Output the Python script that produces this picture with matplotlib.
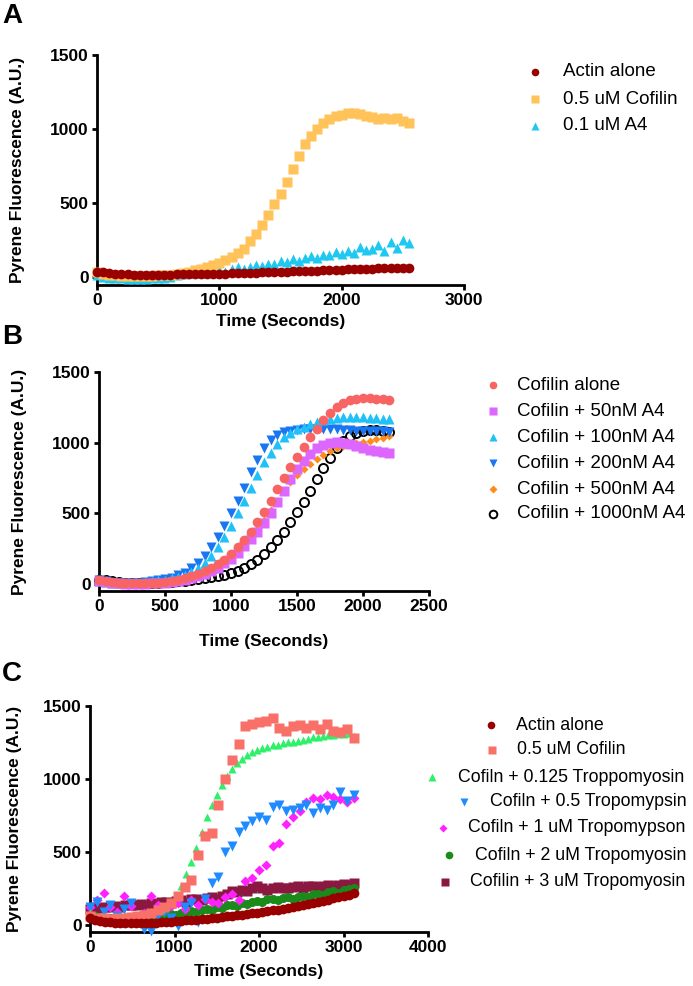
import numpy as np
import matplotlib
matplotlib.use('Agg')
import matplotlib.pyplot as plt
from matplotlib.lines import Line2D

plt.rcParams['font.family'] = ['Liberation Sans', 'DejaVu Sans']

# ---- Panel A data (time in s, pyrene fluorescence in A.U.) ----
t_a = np.arange(0, 2551, 50)
a_actin = [35, 30, 25, 22, 20, 18, 15, 13, 12, 12,
           12, 14, 15, 16, 17, 18, 19, 20, 20, 21,
           22, 22, 24, 25, 26, 28, 29, 30, 31, 33,
           34, 35, 37, 38, 40, 41, 43, 44, 46, 47,
           49, 50, 52, 53, 55, 56, 58, 59, 60, 61,
           62, 63]
a_cofilin = [30, 20, 15, 10, 8, 5, 5, 5, 5, 8,
             10, 12, 15, 20, 25, 35, 45, 55, 70, 82,
             95, 115, 135, 160, 190, 240, 290, 350, 420, 490,
             560, 640, 730, 820, 900, 950, 1000, 1040, 1070, 1085,
             1095, 1105, 1110, 1100, 1090, 1080, 1065, 1075, 1070, 1075,
             1055, 1040]
a_a4 = [10, 0, -5, -10, -10, -15, -15, -15, -15, -10,
        -10, -5, 0, 15, 20, 25, 30, 25, 30, 40,
        45, 35, 50, 65, 55, 70, 80, 75, 90, 85,
        105, 100, 120, 110, 130, 140, 125, 150, 145, 165,
        155, 175, 160, 200, 180, 190, 215, 175, 235, 195,
        250, 230]
a_labels = ['Actin alone', '0.5 uM Cofilin', '0.1 uM A4']

# ---- Panel B data ----
t_b = np.arange(0, 2201, 50)
b_cofilin = [30, 20, 15, 10, 8, 5, 5, 5, 8, 10,
             15, 20, 30, 40, 55, 70, 90, 115, 140, 170,
             210, 260, 310, 370, 440, 510, 590, 670, 750, 830,
             900, 970, 1040, 1100, 1160, 1210, 1250, 1280, 1300, 1310,
             1315, 1315, 1310, 1310, 1305]
b_50 = [20, 15, 10, 5, 0, 0, 0, 0, 5, 5,
        10, 15, 20, 30, 40, 55, 70, 90, 115, 145,
        180, 220, 265, 315, 370, 430, 500, 580, 660, 740,
        810, 870, 920, 960, 985, 1000, 1005, 1000, 990, 975,
        960, 950, 940, 935, 930]
b_100 = [20, 15, 10, 5, 5, 5, 10, 15, 20, 25,
         30, 40, 50, 65, 85, 115, 150, 200, 260, 330,
         410, 500, 590, 680, 770, 860, 930, 990, 1040, 1070,
         1095, 1110, 1130, 1145, 1160, 1170, 1175, 1180, 1180, 1180,
         1180, 1175, 1175, 1170, 1165]
b_200 = [30, 20, 10, 5, 5, 5, 10, 15, 20, 25,
         35, 45, 60, 80, 110, 150, 200, 260, 330, 410,
         500, 590, 680, 790, 880, 960, 1020, 1055, 1075, 1085,
         1090, 1095, 1100, 1100, 1100, 1095, 1095, 1090, 1090, 1085,
         1085, 1080, 1080, 1080, 1075]
b_500 = [25, 15, 10, 5, 5, 0, 0, 5, 5, 10,
         15, 20, 25, 35, 45, 60, 80, 100, 125, 155,
         190, 230, 275, 330, 390, 450, 520, 590, 660, 720,
         770, 810, 850, 885, 915, 940, 960, 975, 985, 995,
         1005, 1015, 1025, 1035, 1045]
b_1000 = [30, 25, 20, 15, 10, 10, 10, 10, 10, 10,
          12, 15, 18, 22, 27, 33, 40, 47, 55, 65,
          75, 90, 110, 140, 170, 210, 260, 310, 370, 440,
          510, 580, 660, 740, 820, 890, 960, 1010, 1045, 1065,
          1080, 1090, 1090, 1085, 1075]
b_labels = ['Cofilin alone', 'Cofilin + 50nM A4', 'Cofilin + 100nM A4',
            'Cofilin + 200nM A4', 'Cofilin + 500nM A4', 'Cofilin + 1000nM A4']

# ---- Panel C data ----
t_c60 = np.arange(0, 3121, 60)
t_c80 = np.arange(0, 3121, 80)
c_actin = [45, 35, 28, 22, 18, 15, 13, 12, 12, 12,
           13, 14, 15, 17, 19, 21, 23, 25, 28, 31,
           34, 37, 40, 44, 47, 51, 55, 59, 63, 67,
           71, 76, 80, 85, 90, 95, 100, 106, 112, 118,
           124, 130, 137, 144, 151, 158, 166, 174, 182, 190,
           199, 208, 218]
c_cofilin = [60, 50, 45, 40, 45, 50, 55, 60, 70, 80,
             100, 120, 150, 200, 260, 310, 480, 610, 630, 820,
             1000, 1130, 1240, 1360, 1380, 1390, 1400, 1420, 1350, 1330,
             1360, 1370, 1350, 1370, 1340, 1380, 1330, 1320, 1340, 1280]
c_tm0125 = [80, 60, 50, 40, 45, 55, 50, 60, 65, 70,
            75, 80, 90, 100, 110, 130, 160, 200, 270, 350,
            430, 530, 640, 740, 820, 890, 960, 1020, 1070, 1110,
            1140, 1165, 1185, 1200, 1210, 1220, 1230, 1235, 1245, 1250,
            1255, 1260, 1270, 1275, 1285, 1290, 1295, 1300, 1300, 1305,
            1310, 1315, 1295]
c_tm05 = [120, 160, 90, 140, 60, 110, 150, 30, -30, -40,
          60, 90, 50, -10, 120, 150, 20, 180, 290, 330,
          500, 540, 640, 680, 710, 740, 720, 810, 820, 780,
          790, 800, 820, 770, 800, 790, 820, 910, 850, 890]
c_tm1 = [120, 170, 220, 120, 90, 200, 130, 60, 80, 200,
         140, 100, 130, 150, 110, 170, 140, 180, 160, 150,
         190, 210, 170, 300, 320, 380, 410, 540, 560, 690,
         740, 780, 840, 870, 860, 890, 880, 860, 840, 870]
c_tm2 = [70, 60, 55, 50, 45, 45, 50, 40, 50, 55,
         50, 60, 55, 65, 60, 70, 75, 70, 85, 80,
         95, 90, 105, 110, 100, 120, 115, 135, 140, 130,
         150, 145, 160, 165, 155, 175, 180, 170, 185, 190,
         180, 195, 200, 195, 210, 215, 205, 225, 230, 220,
         240, 245, 255]
c_tm3 = [110, 120, 115, 125, 120, 130, 125, 135, 140, 135,
         145, 140, 150, 145, 155, 160, 150, 165, 170, 160,
         175, 180, 170, 185, 190, 180, 200, 215, 230, 225,
         240, 235, 250, 270, 255, 240, 250, 260, 255, 250,
         260, 265, 255, 265, 270, 260, 270, 275, 265, 275,
         280, 275, 285]
c_labels = ['Actin alone', '0.5 uM Cofilin', 'Cofiln + 0.125 Troppomyosin',
            'Cofiln + 0.5 Tropomypsin', 'Cofiln + 1 uM Tropomypson',
            'Cofiln + 2 uM Tropomyosin', 'Cofilin + 3 uM Tropomyosin']

W, H = 693, 986
fig = plt.figure(figsize=(W / 100, H / 100), dpi=100)


def axes_px(left, top, right, bottom):
    return fig.add_axes([left / W, 1 - bottom / H, (right - left) / W, (bottom - top) / H])


def style_axes(ax, xmax, xstep, ybottom, xpad, ylabel_x):
    ax.set_xlim(0, xmax)
    ax.set_ylim(ybottom, 1500)
    ax.set_xticks(np.arange(0, xmax + 1, xstep))
    ax.set_yticks([0, 500, 1000, 1500])
    ax.spines['top'].set_visible(False)
    ax.spines['right'].set_visible(False)
    ax.spines['left'].set_linewidth(2)
    ax.spines['bottom'].set_linewidth(2)
    ax.tick_params(width=2, length=3.5, pad=2.5, labelsize=12.5)
    for lab in ax.get_xticklabels() + ax.get_yticklabels():
        lab.set_fontweight('bold')
    ax.set_xlabel('Time (Seconds)', fontsize=12.5, fontweight='bold', labelpad=xpad)
    ax.set_ylabel('Pyrene Fluorescence (A.U.)', fontsize=12.5, fontweight='bold')
    ax.yaxis.set_label_coords(ylabel_x, 0.5)


def scatter(ax, t, v, z, **kw):
    ax.plot(t, v, ls='none', clip_on=False, zorder=z, **kw)


def key(labels, styles, mxs, txs, ys, size):
    for lab, st, mx, tx, y in zip(labels, styles, mxs, txs, ys):
        fig.add_artist(Line2D([mx / W], [1 - y / H], transform=fig.transFigure, ls='none', **st))
        fig.text(tx / W, 1 - y / H, lab, fontsize=size, va='center', ha='left')


# ---------------- A ----------------
axA = axes_px(97, 55, 464, 285)
sA = [dict(marker='o', ms=7, color='#990000'),
      dict(marker='s', ms=6.5, color='#FFC35A'),
      dict(marker='^', ms=7, color='#1EC8F0')]
scatter(axA, t_a, a_a4, 3, mec='none', **sA[2])
scatter(axA, t_a, a_cofilin, 4, mec='none', **sA[1])
scatter(axA, t_a, a_actin, 5, mec='none', **sA[0])
style_axes(axA, 3000, 1000, -55, 4, -0.196)
key(a_labels, [dict(s, ms=5.5, mec='none') for s in sA], [535] * 3, [563] * 3, [72, 99, 126], 13.5)

# ---------------- B ----------------
axB = axes_px(99, 372, 429, 591)
sB = [dict(marker='o', ms=7, color='#F86464', mec='none'),
      dict(marker='s', ms=6.5, color='#DD66FF', mec='none'),
      dict(marker='^', ms=7, color='#20C0F8', mec='none'),
      dict(marker='v', ms=7, color='#1A75F0', mec='none'),
      dict(marker='D', ms=4.5, color='#FF8C1A', mec='none'),
      dict(marker='o', ms=6.5, mfc='none', mec='black', mew=1.4)]
b_series = [b_cofilin, b_50, b_100, b_200, b_500, b_1000]
for i in range(len(b_series) - 1, -1, -1):
    scatter(axB, t_b, b_series[i], 10 - i, **sB[i])
style_axes(axB, 2500, 500, -50, 14, -0.218)
key(b_labels, [dict(s, ms=5.5 if s['marker'] != 'D' else 4.5) for s in sB],
    [493] * 6, [517] * 6, [385, 411, 437, 463, 489, 514], 13.5)

# ---------------- C ----------------
axC = axes_px(90, 706, 428, 932)
sC = [dict(marker='o', ms=7, color='#990000', mec='none'),
      dict(marker='s', ms=7.5, color='#F87068', mec='none'),
      dict(marker='^', ms=6, color='#2EF06A', mec='none'),
      dict(marker='v', ms=7.5, color='#1E8CFF', mec='none'),
      dict(marker='D', ms=5.5, color='#FF22FF', mec='none'),
      dict(marker='o', ms=6.5, color='#1A8A1A', mec='none'),
      dict(marker='s', ms=7, color='#8B1840', mec='none')]
c_series = [(t_c60, c_actin), (t_c80, c_cofilin), (t_c60, c_tm0125), (t_c80, c_tm05),
            (t_c80, c_tm1), (t_c60, c_tm2), (t_c60, c_tm3)]
for i in range(len(c_series) - 1, -1, -1):
    scatter(axC, c_series[i][0], c_series[i][1], 10 - i, **sC[i])
style_axes(axC, 4000, 1000, -48, 6, -0.201)
key(c_labels, [dict(s, ms=5.5 if s['marker'] != 'D' else 4.5) for s in sC],
    [491, 492, 432, 464, 443, 449, 445],
    [516, 517, 458, 490, 468, 475, 470],
    [725, 750, 777, 802, 828, 855, 882], 12.8)

# panel letters
for letter, y in [('A', 16), ('B', 337), ('C', 674)]:
    fig.text(2 / W, 1 - y / H, letter, fontsize=20, fontweight='bold', va='center', ha='left')

fig.savefig('out.png', dpi=100)
